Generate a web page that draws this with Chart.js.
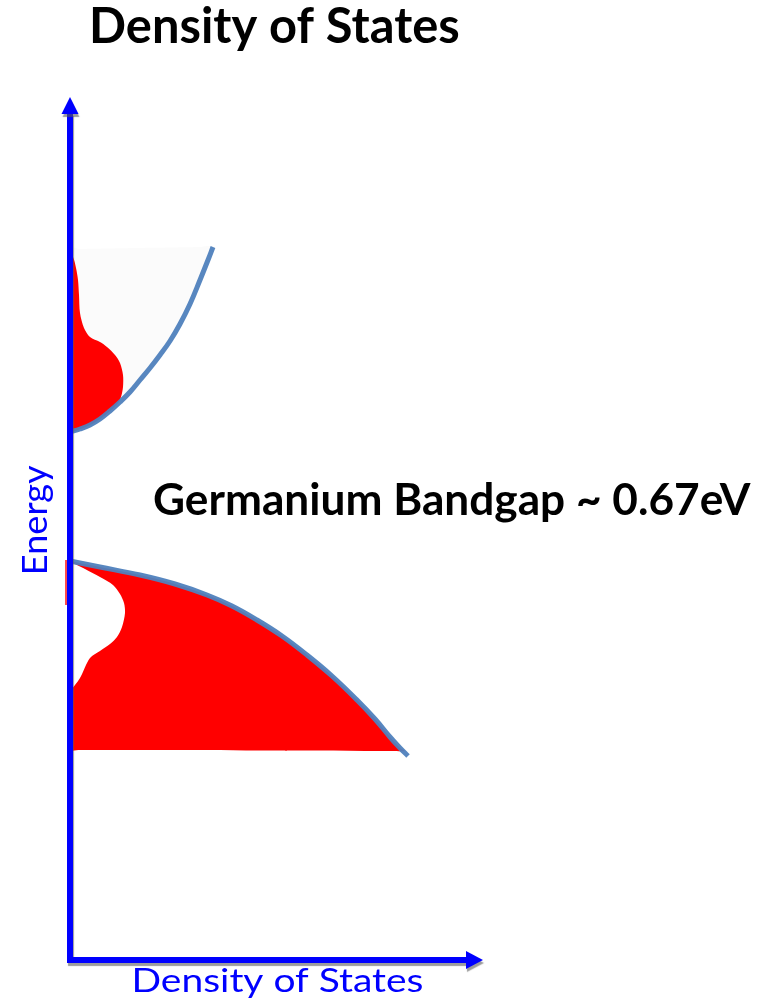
<!DOCTYPE html>
<html>
<head>
<meta charset="utf-8">
<title>Density of States</title>
<script src="https://cdn.jsdelivr.net/npm/chart.js@4.4.1/dist/chart.umd.min.js"></script>
<style>
  html, body { margin: 0; padding: 0; background: #fff; }
  #chart { display: block; }
</style>
</head>
<body>
<canvas id="chart" width="771" height="1000"></canvas>
<script>
// all values are (density, energy) in arbitrary units, origin where the axes cross

// conduction band edge (parabola)
const condDensity = [0, 10, 20, 30, 40, 50, 60, 70, 80, 90, 100, 110, 120, 130, 138, 143];
const condEnergy  = [528, 531, 535, 541, 549, 558, 568, 580, 592, 605, 619, 636, 656, 680, 700, 713];

// occupied states in the conduction band (red shape)
const condFillDensity = [0, 3, 6, 8, 9, 10, 14, 20, 30, 37, 45, 50, 53, 53, 51, 48, 40, 30, 20, 10, 0, 0, 0];
const condFillEnergy  = [705, 703, 692, 680, 665, 647, 632, 623, 618, 613, 605, 597, 585, 573, 563, 557, 549, 541, 535, 531, 528, 540, 700];

// faint shading above the conduction band edge
const condShadeDensity = [0, 10, 20, 30, 40, 50, 60, 70, 80, 90, 100, 110, 120, 130, 138, 143, 130, 10, 0, 0];
const condShadeEnergy  = [528, 531, 535, 541, 549, 558, 568, 580, 592, 605, 619, 636, 656, 680, 700, 713, 713, 711, 711, 540];

// valence band edge
const valDensity = [0, 30, 70, 105, 137, 162, 187, 212, 237, 262, 287, 305, 320, 330, 338];
const valEnergy  = [399, 393, 385, 376, 365, 354, 340, 324, 305, 284, 260, 241, 223, 212, 204];

// states in the valence band (red shape)
const valFillDensity = [0, 30, 70, 105, 137, 162, 187, 212, 237, 262, 287, 305, 320, 330, 335,
                        325, 200, 100, 10, 0, 0, 0, 0, 10, 20, 30, 40, 47, 52, 55, 54, 50, 43, 30, 15, 5];
const valFillEnergy  = [399, 393, 385, 376, 365, 354, 340, 324, 305, 284, 260, 241, 223, 212, 209,
                        209, 209.5, 210, 210, 210, 220, 255, 267, 282, 302, 309, 316, 323, 333, 347, 357, 366, 375, 383, 391, 396];

// small red sliver left of the energy axis
const sliverDensity = [-4, -4];
const sliverEnergy  = [400, 355];

// axis lengths
const densityAxisEnd = 413;
const energyAxisEnd = 863;

const FONT = 'Lato, "Open Sans", sans-serif';

function toPoints(xs, ys) {
    return xs.map(function (x, i) { return { x: x, y: ys[i] }; });
}

// draw text stretched to fit a box (left/right, cap top/baseline)
function fitText(ctx, text, left, right, baseline, capTop, weight, color) {
    ctx.save();
    ctx.font = weight + ' 100px ' + FONT;
    var capRatio = ctx.measureText('H').actualBoundingBoxAscent / 100;
    var size = (baseline - capTop) / capRatio;
    ctx.font = weight + ' ' + size + 'px ' + FONT;
    var m = ctx.measureText(text);
    var w = m.actualBoundingBoxLeft + m.actualBoundingBoxRight;
    ctx.translate(left, baseline);
    ctx.scale((right - left) / w, 1);
    ctx.fillStyle = color;
    ctx.textAlign = 'left';
    ctx.textBaseline = 'alphabetic';
    ctx.fillText(text, m.actualBoundingBoxLeft, 0);
    ctx.restore();
}

// axes with arrow heads
const axesPlugin = {
    id: 'axesArrows',
    afterDatasetsDraw: function (chart) {
        var ctx = chart.ctx;
        var xs = chart.scales.x, ys = chart.scales.y;
        var x0 = xs.getPixelForValue(0), y0 = ys.getPixelForValue(0);
        var xEnd = xs.getPixelForValue(densityAxisEnd);
        var yEnd = ys.getPixelForValue(energyAxisEnd);
        ctx.save();
        ctx.shadowColor = 'rgba(90,90,90,0.6)';
        ctx.shadowOffsetX = 1;
        ctx.shadowOffsetY = 3;
        ctx.shadowBlur = 1;
        ctx.fillStyle = '#0000ff';
        ctx.strokeStyle = '#0000ff';
        ctx.lineWidth = 6;
        ctx.lineCap = 'butt';
        ctx.beginPath();
        ctx.moveTo(x0, y0 + 3);
        ctx.lineTo(x0, yEnd + 16);
        ctx.moveTo(x0 - 3, y0);
        ctx.lineTo(xEnd - 16, y0);
        ctx.stroke();
        // arrow heads
        ctx.beginPath();
        ctx.moveTo(x0, yEnd);
        ctx.lineTo(x0 - 8.5, yEnd + 17);
        ctx.lineTo(x0 + 8.5, yEnd + 17);
        ctx.closePath();
        ctx.fill();
        ctx.beginPath();
        ctx.moveTo(xEnd, y0);
        ctx.lineTo(xEnd - 17, y0 - 9);
        ctx.lineTo(xEnd - 17, y0 + 9);
        ctx.closePath();
        ctx.fill();
        ctx.restore();
    },
    afterDraw: function (chart) {
        var ctx = chart.ctx;
        fitText(ctx, 'Density of States', 92, 459, 43, 7, 'bold', '#000000');
        fitText(ctx, 'Germanium Bandgap ~ 0.67eV', 154, 751, 515, 483, 'bold', '#000000');
        fitText(ctx, 'Density of States', 135, 422, 992, 968, 'normal', '#0000ff');
        ctx.save();
        ctx.translate(47, 572);
        ctx.rotate(-Math.PI / 2);
        fitText(ctx, 'Energy', 0, 107, 0, -25, 'normal', '#0000ff');
        ctx.restore();
    }
};

var ctx = document.getElementById('chart').getContext('2d');
var dosChart = new Chart(ctx, {
    type: 'scatter',
    data: {
        datasets: [
            {
                label: 'Conduction band',
                data: toPoints(condDensity, condEnergy),
                showLine: true,
                borderColor: 'rgba(79,129,189,0.95)',
                borderWidth: 5,
                pointRadius: 0,
                tension: 0.4,
                fill: false,
                order: 1
            },
            {
                label: 'Valence band',
                data: toPoints(valDensity, valEnergy),
                showLine: true,
                borderColor: 'rgba(79,129,189,0.95)',
                borderWidth: 5,
                pointRadius: 0,
                tension: 0.4,
                fill: false,
                order: 1
            },
            {
                label: 'Conduction occupied',
                data: toPoints(condFillDensity, condFillEnergy),
                showLine: true,
                borderWidth: 0,
                borderColor: 'rgba(0,0,0,0)',
                backgroundColor: '#ff0000',
                pointRadius: 0,
                tension: 0.3,
                fill: 'shape',
                order: 2
            },
            {
                label: 'Valence occupied',
                data: toPoints(valFillDensity, valFillEnergy),
                showLine: true,
                borderWidth: 0,
                borderColor: 'rgba(0,0,0,0)',
                backgroundColor: '#ff0000',
                pointRadius: 0,
                tension: 0.3,
                fill: 'shape',
                order: 2
            },
            {
                label: 'Sliver',
                data: toPoints(sliverDensity, sliverEnergy),
                showLine: true,
                borderWidth: 2,
                borderColor: 'rgba(255,0,0,0.7)',
                pointRadius: 0,
                fill: false,
                order: 2
            },
            {
                label: 'Shade',
                data: toPoints(condShadeDensity, condShadeEnergy),
                showLine: true,
                borderWidth: 0,
                borderColor: 'rgba(0,0,0,0)',
                backgroundColor: '#fbfbfb',
                pointRadius: 0,
                tension: 0.4,
                fill: 'shape',
                order: 3
            }
        ]
    },
    options: {
        responsive: false,
        animation: false,
        layout: { padding: 0 },
        plugins: {
            legend: { display: false },
            tooltip: { enabled: false },
            title: { display: false }
        },
        scales: {
            x: { type: 'linear', min: -70, max: 701, display: false },
            y: { type: 'linear', min: -40, max: 960, display: false }
        }
    },
    plugins: [axesPlugin]
});
</script>
</body>
</html>
